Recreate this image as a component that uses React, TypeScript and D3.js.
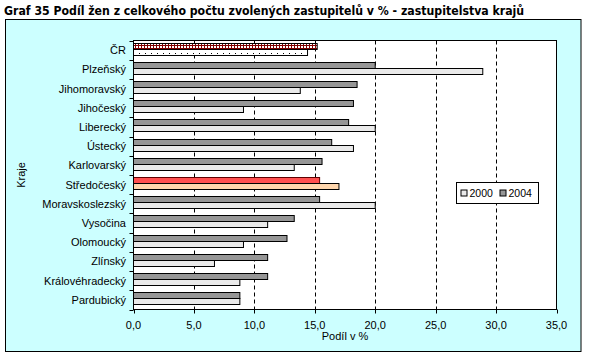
import * as d3 from 'd3';

const categories = [
  'ČR', 'Plzeňský', 'Jihomoravský', 'Jihočeský', 'Liberecký', 'Ústecký', 'Karlovarský',
  'Středočeský', 'Moravskoslezský', 'Vysočina', 'Olomoucký', 'Zlínský', 'Královéhradecký', 'Pardubický'
];
const values2004 = [15.2, 20.0, 18.5, 18.2, 17.8, 16.4, 15.6, 15.4, 15.4, 13.3, 12.7, 11.1, 11.1, 8.8];
const values2000 = [14.4, 28.9, 13.8, 9.1, 20.0, 18.2, 13.3, 17.0, 20.0, 11.1, 9.1, 6.7, 8.8, 8.8];
const xTicks = [0, 5, 10, 15, 20, 25, 30, 35];
const seriesNames = ['2004', '2000'];

const W = 589, H = 360;
const plot = { left: 133.5, right: 556.5, top: 40.5, bottom: 309.5 };
const font = '"Liberation Sans", Arial, sans-serif';

const fillFor = (cat: string, s: string) => {
  if (cat === 'ČR') return s === '2004' ? 'url(#brick)' : 'url(#dots)';
  if (cat === 'Středočeský') return s === '2004' ? '#ff5050' : '#ffd6ad';
  return s === '2004' ? '#969696' : '#eaeaea';
};

export default function App() {
  const x = d3.scaleLinear().domain([0, 35]).range([plot.left, plot.right]);
  const y = d3.scaleBand<string>().domain(categories).range([plot.top, plot.bottom]);
  const inner = d3.scaleBand<string>().domain(seriesNames).range([2, 14]);
  const fmt = (v: number) => d3.format('.1f')(v).replace('.', ',');
  const bounds = [...categories.map(c => y(c)!), plot.bottom];

  return (
    <svg width={W} height={H} style={{ position: 'absolute', left: 0, top: 0 }} fontFamily={font}>
      <defs>
        <pattern id="brick" width={3} height={3} patternUnits="userSpaceOnUse">
          <rect width={3} height={3} fill="#fff" />
          <line x1={0} x2={3} y1={0.5} y2={0.5} stroke="#800000" />
          <line x1={0.5} x2={0.5} y1={0} y2={3} stroke="#800000" />
        </pattern>
        <pattern id="dots" width={6} height={4} patternUnits="userSpaceOnUse">
          <rect width={6} height={4} fill="#fff" />
          <rect x={1} y={1} width={1} height={1} fill="#000" />
        </pattern>
      </defs>
      <rect width={W} height={H} fill="#fff" />
      <text x={4} y={15} fontSize={12.2} fontWeight="bold" fontFamily='"Liberation Sans Narrow", "DejaVu Sans Condensed", Arial, sans-serif'>
        Graf 35 Podíl žen z celkového počtu zvolených zastupitelů v % - zastupitelstva krajů
      </text>
      <rect x={5.5} y={19.5} width={575.5} height={332} fill="#ccffff" stroke="#000" />
      <rect x={plot.left} y={plot.top} width={plot.right - plot.left} height={plot.bottom - plot.top} fill="#fff" />
      {xTicks.slice(1, -1).map(t => (
        <line key={t} x1={Math.round(x(t)) + 0.5} x2={Math.round(x(t)) + 0.5} y1={plot.top} y2={plot.bottom}
          stroke="#000" strokeDasharray="4,3" />
      ))}
      {categories.map((c, i) => seriesNames.map(s => {
        const v = s === '2004' ? values2004[i] : values2000[i];
        return (
          <rect key={c + s} x={plot.left} y={Math.round(y(c)! + inner(s)!) + 0.5}
            width={x(v) - plot.left} height={inner.bandwidth()}
            fill={fillFor(c, s)} stroke={c === 'Středočeský' && s === '2004' ? '#600000' : '#000'} strokeWidth={1} />
        );
      }))}
      <rect x={plot.left} y={plot.top} width={plot.right - plot.left} height={plot.bottom - plot.top} fill="none" stroke="#000" />
      {bounds.map((b, i) => (
        <line key={i} x1={plot.left - 4} x2={plot.left} y1={Math.round(b) + 0.5} y2={Math.round(b) + 0.5} stroke="#000" />
      ))}
      {xTicks.map(t => (
        <g key={t}>
          <line x1={Math.round(x(t)) + 0.5} x2={Math.round(x(t)) + 0.5} y1={plot.bottom} y2={plot.bottom + 4} stroke="#000" />
          <text x={x(t)} y={329} fontSize={11} textAnchor="middle">{fmt(t)}</text>
        </g>
      ))}
      {categories.map(c => (
        <text key={c} x={126} y={y(c)! + y.bandwidth() / 2 + 4} fontSize={11} textAnchor="end">{c}</text>
      ))}
      <text x={(plot.left + plot.right) / 2} y={340} fontSize={11} textAnchor="middle">Podíl v %</text>
      <text transform={`translate(25,${(plot.top + plot.bottom) / 2}) rotate(-90)`} fontSize={11} textAnchor="middle">Kraje</text>
      <g transform="translate(456.5,182.5)">
        <rect width={82} height={21} fill="#fff" stroke="#000" />
        <rect x={4.5} y={7.5} width={6} height={6} fill="#eaeaea" stroke="#000" />
        <text x={13} y={14.5} fontSize={10.5}>2000</text>
        <rect x={43.5} y={7.5} width={6} height={6} fill="#969696" stroke="#000" />
        <text x={52} y={14.5} fontSize={10.5}>2004</text>
      </g>
    </svg>
  );
}
